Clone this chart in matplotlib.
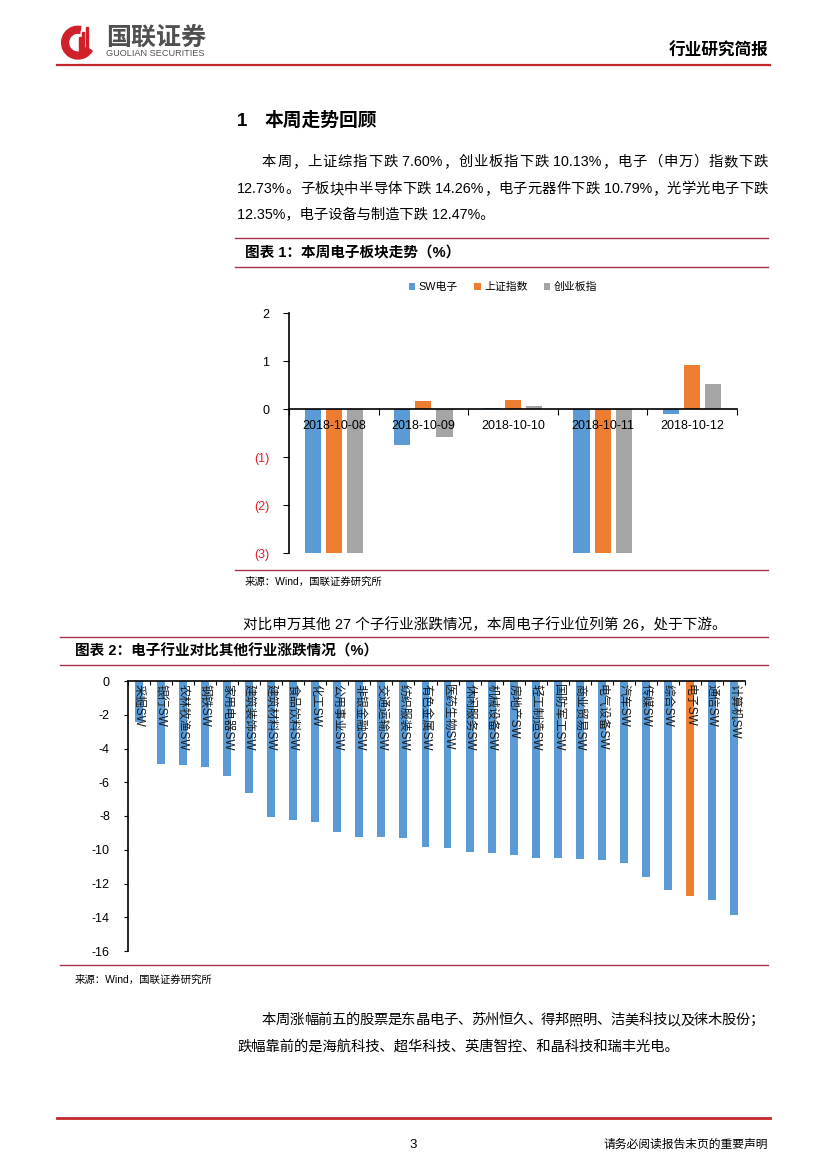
import numpy as np
import matplotlib
matplotlib.use("Agg")
import matplotlib.pyplot as plt
from matplotlib.lines import Line2D
from matplotlib.patches import Wedge, Rectangle

plt.rcParams['font.family'] = ['Liberation Sans', 'Noto Sans CJK SC', 'DejaVu Sans']
plt.rcParams['axes.unicode_minus'] = False

# chart 1 data
dates = ["2018-10-08", "2018-10-09", "2018-10-10", "2018-10-11", "2018-10-12"]
sw_dianzi = [-4.9, -0.74, 0.02, -6.5, -0.11]
shangzheng = [-3.72, 0.17, 0.18, -5.22, 0.92]
chuangye = [-4.09, -0.58, 0.06, -6.27, 0.53]
series_names = ["SW电子", "上证指数", "创业板指"]

# chart 2 data
industries = ["采掘SW", "银行SW", "农林牧渔SW", "钢铁SW", "家用电器SW", "建筑装饰SW",
              "建筑材料SW", "食品饮料SW", "化工SW", "公用事业SW", "非银金融SW", "交通运输SW",
              "纺织服装SW", "有色金属SW", "医药生物SW", "休闲服务SW", "机械设备SW", "房地产SW",
              "轻工制造SW", "国防军工SW", "商业贸易SW", "电气设备SW", "汽车SW", "传媒SW",
              "综合SW", "电子SW", "通信SW", "计算机SW"]
changes = [-2.43, -4.94, -5.00, -5.10, -5.63, -6.62, -8.04, -8.24, -8.36, -8.93, -9.25, -9.25,
           -9.29, -9.86, -9.92, -10.14, -10.20, -10.30, -10.47, -10.49, -10.57, -10.59, -10.79,
           -11.62, -12.41, -12.73, -12.96, -13.85]

W, H = 827, 1169
BLUE, ORANGE, GRAY = "#5B9BD5", "#ED7D31", "#A5A5A5"
RED = "#C3272B"
BOX = "#A8324E"

fig = plt.figure(figsize=(W / 100, H / 100), dpi=100)
renderer = fig.canvas.get_renderer()


def fx(x):
    return x / W


def fy(y):
    return 1 - y / H


def hline(y, x0, x1, color=BOX, lw=1.0):
    fig.add_artist(Line2D([fx(x0), fx(x1)], [fy(y), fy(y)], color=color, lw=lw,
                          transform=fig.transFigure))


def ptext(x, y, s, size=10.5, **kw):
    kw.setdefault("va", "center")
    kw.setdefault("ha", "left")
    return fig.text(fx(x), fy(y), s, fontsize=size, **kw)


def justify(x0, x1, y, s, size=10.3):
    # spread the characters of one line so that it runs from x0 to x1
    pieces = []
    for ch in s:
        if pieces and ch.isascii() and pieces[-1].isascii():
            pieces[-1] += ch
        else:
            pieces.append(ch)
    texts = [ptext(0, y, p, size=size) for p in pieces]
    widths = [t.get_window_extent(renderer).width for t in texts]
    gap = (x1 - x0 - sum(widths)) / max(len(pieces) - 1, 1)
    pos = x0
    for t, w in zip(texts, widths):
        t.set_x(fx(pos))
        pos += w + gap


# header
logo = fig.add_axes([fx(60), fy(62), fx(36), 42 / H])
logo.set_xlim(-1.1, 1.1)
logo.set_ylim(-1.1, 1.3)
logo.set_aspect("equal")
logo.axis("off")
logo.add_patch(Wedge((0, 0), 1.0, 80, 330, width=0.42, color="#D0202A"))
for i, hh in enumerate([0.9, 1.2, 1.5]):
    logo.add_patch(Rectangle((0.05 + i * 0.22, -0.55), 0.12, hh, color="#D0202A"))
ptext(106, 38, "国联证券", size=18, color="#505050", fontweight="bold")
ptext(106, 54, "GUOLIAN SECURITIES", size=6.6, color="#505050")
ptext(768, 51, "行业研究简报", size=12, fontweight="bold", ha="right")
hline(65, 57, 770, color=RED, lw=1.6)

# section 1
ptext(237, 121, "1", size=13.5, fontweight="bold")
ptext(265, 121, "本周走势回顾", size=13.5, fontweight="bold")
justify(262, 768, 162, "本周，上证综指下跌 7.60%，创业板指下跌 10.13%，电子（申万）指数下跌")
justify(237, 768, 189, "12.73%。子板块中半导体下跌 14.26%，电子元器件下跌 10.79%，光学光电子下跌")
ptext(237, 215, "12.35%，电子设备与制造下跌 12.47%。", size=10.3)

# chart 1 frame
hline(238, 235, 768)
ptext(245, 253, "图表 1：本周电子板块走势（%）", size=10.5, fontweight="bold")
hline(267, 235, 768)
hline(570, 235, 768)
ptext(245, 582, "来源：Wind，国联证券研究所", size=7.5)

ax1 = fig.add_axes([fx(289), fy(553), fx(737) - fx(289), fy(313) - fy(553)])
x = np.arange(len(dates))
bw = 0.18
for k, (vals, col) in enumerate(zip([sw_dianzi, shangzheng, chuangye], [BLUE, ORANGE, GRAY])):
    ax1.bar(x + (k - 1) * 0.235, vals, width=bw, color=col, label=series_names[k], zorder=1)
ax1.set_xlim(-0.5, len(dates) - 0.5)
ax1.set_ylim(-3, 2)
for s in ["top", "right"]:
    ax1.spines[s].set_visible(False)
ax1.spines["bottom"].set_position(("data", 0))
ax1.spines["left"].set_linewidth(1.2)
ax1.spines["bottom"].set_linewidth(1.2)
ax1.set_xticks(np.arange(-0.5, len(dates)), minor=False)
ax1.set_xticklabels([])
ax1.set_xticks(x, minor=True)
ax1.set_xticklabels(dates, minor=True, fontsize=9)
ax1.tick_params(axis="x", which="major", length=4, direction="out")
ax1.tick_params(axis="x", which="minor", length=0, pad=8)
yt = [2, 1, 0, -1, -2, -3]
ax1.set_yticks(yt)
ax1.set_yticklabels([str(v) if v >= 0 else "(%d)" % -v for v in yt], fontsize=9)
for lab, v in zip(ax1.get_yticklabels(), yt):
    if v < 0:
        lab.set_color("#E0202A")
ax1.tick_params(axis="y", length=4, direction="out", pad=10)
ax1.legend(loc="center", bbox_to_anchor=(fx(503), fy(287)), bbox_transform=fig.transFigure,
           ncol=3, frameon=False, fontsize=7.8, handlelength=0.6, handleheight=0.6,
           handletextpad=0.3, columnspacing=1.5)

# chart 2
ptext(243, 625, "对比申万其他 27 个子行业涨跌情况，本周电子行业位列第 26，处于下游。", size=10.5)
hline(637, 60, 768)
ptext(75, 651, "图表 2：电子行业对比其他行业涨跌情况（%）", size=10.5, fontweight="bold")
hline(665, 60, 768)
hline(965, 60, 768)
ptext(75, 980, "来源：Wind，国联证券研究所", size=7.5)

ax2 = fig.add_axes([fx(128), fy(951), fx(745) - fx(128), fy(681) - fy(951)])
xi = np.arange(len(industries))
colors2 = [ORANGE if n == "电子SW" else BLUE for n in industries]
ax2.bar(xi, changes, width=0.36, color=colors2, zorder=1)
ax2.set_xlim(-0.5, len(industries) - 0.5)
ax2.set_ylim(-16, 0)
for s in ["right", "bottom"]:
    ax2.spines[s].set_visible(False)
ax2.spines["top"].set_linewidth(1.2)
ax2.spines["left"].set_linewidth(1.2)
ax2.xaxis.set_ticks_position("top")
ax2.set_xticks(np.arange(-0.5, len(industries)))
ax2.set_xticklabels([])
ax2.tick_params(axis="x", length=3, direction="in")
ax2.set_yticks(np.arange(-16, 1, 2))
ax2.set_yticklabels(["%d" % v if v == 0 else "-%d" % -v for v in np.arange(-16, 1, 2)], fontsize=9)
ax2.tick_params(axis="y", length=3, direction="out", pad=10)
for i, name in enumerate(industries):
    ax2.text(i, -0.15, name, rotation=-90, ha="center", va="top", fontsize=8.6,
             color="#1a1a1a", zorder=3)

# closing paragraph and footer
justify(262, 764, 1020, "本周涨幅前五的股票是东晶电子、苏州恒久、得邦照明、洁美科技以及徕木股份；")
ptext(237, 1047, "跌幅靠前的是海航科技、超华科技、英唐智控、和晶科技和瑞丰光电。", size=10.3)
hline(1118, 57, 770, color=RED, lw=2.0)
ptext(413, 1145, "3", size=9.5, ha="center")
ptext(768, 1145, "请务必阅读报告末页的重要声明", size=8.5, ha="right")

fig.savefig("out.png", dpi=100)
